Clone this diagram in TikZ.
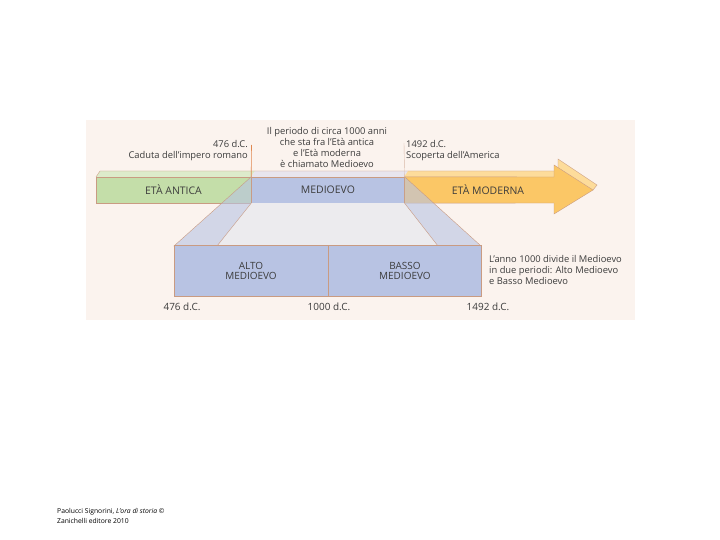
\documentclass[tikz,border=0pt]{standalone}
\usepackage{fontspec}
\setmainfont{Open Sans}
\usetikzlibrary{positioning}

\definecolor{paper}{HTML}{FBF3EE}
\definecolor{anticafront}{HTML}{C4DEA9}
\definecolor{anticatop}{HTML}{DDEBCB}
\definecolor{medioevofront}{HTML}{B8C3E3}
\definecolor{medioevotop}{HTML}{E8E5EE}
\definecolor{modernafront}{HTML}{FBC766}
\definecolor{modernatop}{HTML}{FDDC9B}
\definecolor{funnel}{HTML}{ECEBEE}
\definecolor{edge}{HTML}{C99B82}
\definecolor{tick}{HTML}{E0874F}
\definecolor{ink}{HTML}{3C3C3C}

\begin{document}
\begin{tikzpicture}[
    x=1bp, y=-1bp,
    band/.style={draw=edge, line width=0.4pt, minimum height=26bp,
                 inner sep=0pt, text=ink, font=\fontsize{10.5}{12}\selectfont},
    part/.style={draw=edge, line width=0.4pt, fill=medioevofront,
                 minimum height=51bp, inner sep=0pt, align=center,
                 text=ink, font=\fontsize{10}{10.8}\selectfont},
    face/.style={draw=edge, line width=0.4pt},
    side/.style={draw=edge, line width=0.4pt, fill=medioevofront,
                 fill opacity=0.6},
    note/.style={inner sep=0pt, text=ink, font=\fontsize{9.4}{11.3}\selectfont},
    date/.style={inner sep=0pt, text=ink, font=\fontsize{10}{11}\selectfont},
]
    \useasboundingbox (0,0) rectangle (720,540);
    \fill[paper] (86,120) rectangle (635,320);

    % top faces of the band
    \fill[anticatop] (96,177) -- (100,171) -- (255,171) -- (251,177) -- cycle;
    \fill[medioevotop] (251,177) -- (255,171) -- (408,171) -- (404,177) -- cycle;
    \fill[modernatop] (404,177) -- (408,171) -- (558,171) -- (558,159)
        -- (597,185) -- (593,190) -- (554,165) -- (554,177) -- cycle;
    \draw[face] (96,177) -- (100,171) -- (558,171) -- (558,159) -- (597,185)
        -- (593,190);

    % band
    \node[band, fill=anticafront, minimum width=155bp] (antica)
        at (173.5,190) {ETÀ ANTICA};
    \node[band, fill=medioevofront, minimum width=153bp, right=0pt of antica]
        (medioevo) {MEDIOEVO};
    \draw[face, fill=modernafront] (medioevo.north east) -- (554,177)
        -- (554,165) -- (593,190) -- (554,214) -- (554,203)
        -- (medioevo.south east) -- cycle;
    \node[band, draw=none, text=ink] (moderna) at (488,190) {ETÀ MODERNA};

    % funnel towards the detail
    \fill[funnel] (medioevo.south west) -- (medioevo.south east)
        -- (438,246) -- (217,246) -- cycle;
    \draw[side] (medioevo.north west) -- (medioevo.south west)
        -- (217,246) -- (174,246) -- cycle;
    \draw[side] (medioevo.north east) -- (481,246) -- (438,246)
        -- (medioevo.south east) -- cycle;

    % detail
    \node[part, minimum width=154bp] (alto) at (251,271)
        {ALTO\\MEDIOEVO};
    \node[part, minimum width=153bp, right=0pt of alto] (basso)
        {BASSO\\MEDIOEVO};

    % labels
    \node[note, align=right, anchor=south east] (inizio) at (248,161)
        {476 d.C.\\Caduta dell'impero romano};
    \node[note, align=left, anchor=south west] (scoperta) at (406,161)
        {1492 d.C.\\Scoperta dell'America};
    \node[note, align=center] (periodo) at (327,147.5)
        {Il periodo di circa 1000 anni\\che sta fra l'Età antica\\
         e l'Età moderna\\è chiamato Medioevo};
    \node[note, align=left, anchor=west] (anno) at (489,270)
        {L'anno 1000 divide il Medioevo\\in due periodi: Alto Medioevo\\
         e Basso Medioevo};
    \node[date] (d476) at (182,307) {476 d.C.};
    \node[date] (d1000) at (329,307) {1000 d.C.};
    \node[date] (d1492) at (488,307) {1492 d.C.};

    % ticks from the labels to the band
    \coordinate (inizio-tick) at (251.5,145);
    \coordinate (scoperta-tick) at (404,143);
    \draw[tick, line width=0.6pt] (inizio-tick) -- (medioevo.north west);
    \draw[edge!70, line width=0.4pt] (scoperta-tick) -- (medioevo.north east);

    \node[inner sep=0pt, align=left, anchor=north west,
          font=\fontsize{6.8}{10}\selectfont] (fonte) at (57,508)
        {Paolucci Signorini, \textit{L'ora di storia} ©\\Zanichelli editore 2010};
\end{tikzpicture}
\end{document}
